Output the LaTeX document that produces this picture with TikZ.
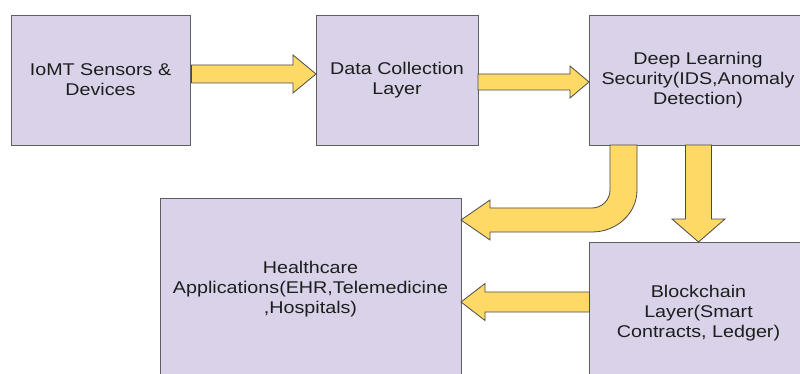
\documentclass[tikz,border=0pt]{standalone}
\usepackage{fontspec}
\setmainfont[FakeStretch=1.16]{Liberation Sans}
\usetikzlibrary{calc}
\definecolor{boxfill}{HTML}{D9D2E9}
\definecolor{boxline}{HTML}{5F5F5F}
\definecolor{arrfill}{HTML}{FFD966}
\definecolor{arrline}{HTML}{4A4A4A}
\definecolor{txt}{HTML}{1E1E1E}
\tikzset{
  layerbox/.style={draw=boxline, fill=boxfill, line width=0.9pt, inner sep=0pt, outer sep=0pt,
    align=center, text=txt, font=\fontsize{17}{20}\selectfont},
  blk/.style={draw=arrline, fill=arrfill, line width=0.8pt, line join=miter},
}
% start, end, shaft half width, head half width, head length (with unit)
\newcommand\blkarrow[5]{%
  \coordinate (s) at (#1);
  \coordinate (e) at (#2);
  \coordinate (h) at ($(e)!#5!(s)$);
  \draw[blk] ($(s)!#3!90:(e)$) -- ($(h)!#3!-90:(s)$) -- ($(h)!#4!-90:(s)$) -- (e)
    -- ($(h)!#4!90:(s)$) -- ($(h)!#3!90:(s)$) -- ($(s)!#3!-90:(e)$) -- cycle;
}
\begin{document}
\begin{tikzpicture}[x=1pt,y=-1pt]
\useasboundingbox (0,0) rectangle (800,374);
\clip (0,0) rectangle (800,374);
\fill[white] (0,0) rectangle (800,374);

\node[layerbox, minimum width=179pt, minimum height=130pt] (b1) at (100.5,80) {IoMT Sensors \&\\Devices};
\node[layerbox, minimum width=162pt, minimum height=130pt] (b2) at (397,80) {Data Collection\\Layer};
\node[layerbox, minimum width=218pt, minimum height=130pt] (b3) at (698,80) {Deep Learning\\Security(IDS,Anomaly\\Detection)};
\node[layerbox, minimum width=301pt, minimum height=182pt] (b4) at (310.5,289) {Healthcare\\Applications(EHR,Telemedicine\\,Hospitals)};
\node[layerbox, minimum width=218pt, minimum height=142pt] (b5) at (698.5,313) {Blockchain\\Layer(Smart\\Contracts, Ledger)};

% straight block arrows
\blkarrow{$(b1.east)+(1.5,-6)$}{$(b2.west)+(0,-6)$}{9pt}{19pt}{23pt}
\blkarrow{$(b2.east)+(0,2)$}{$(b3.west)+(0,2)$}{8pt}{16pt}{19pt}
\blkarrow{$(b5.north|-b3.south)$}{b5.north}{13pt}{26.5pt}{23pt}
\blkarrow{$(b5.west)+(0,-11)$}{$(b4.east)+(0,13)$}{10pt}{18.5pt}{24pt}

% curved block arrow from deep learning to healthcare
\coordinate (ct) at ($(b3.south west)+(34.5,0)$);
\coordinate (ch) at ($(b4.east)+(0,-69)$);
\draw[blk] ($(ct)+(13.5,0)$) -- ($(ct)+(13.5,45)$)
  .. controls ($(ct)+(13.5,68.2)$) and ($(ct)+(-6.6,87)$) .. ($(ct)+(-31.5,87)$)
  -- ($(ch)+(29,12)$) -- ($(ch)+(29,20)$) -- (ch) -- ($(ch)+(29,-20)$) -- ($(ch)+(29,-12)$)
  -- ($(ct)+(-31.5,63)$)
  .. controls ($(ct)+(-21.6,63)$) and ($(ct)+(-13.5,54.9)$) .. ($(ct)+(-13.5,45)$)
  -- ($(ct)+(-13.5,0)$) -- cycle;
\end{tikzpicture}
\end{document}
